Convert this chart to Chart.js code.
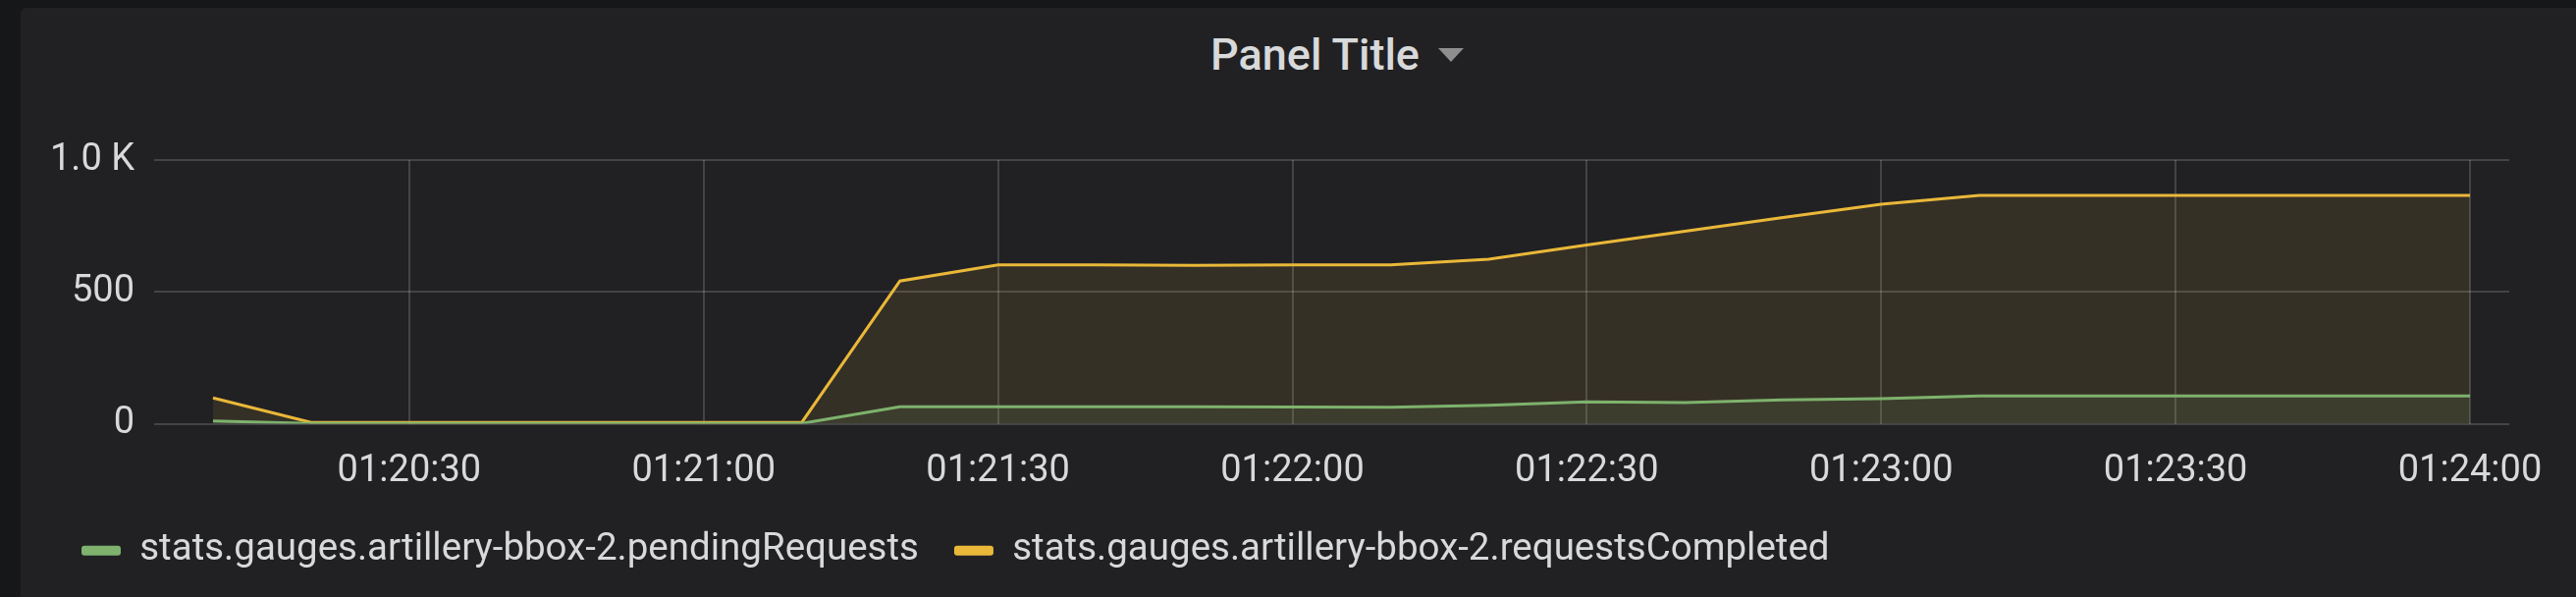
<!DOCTYPE html>
<html>
<head>
<meta charset="utf-8">
<script src="https://cdn.jsdelivr.net/npm/chart.js@4"></script>
<style>
  html, body { margin: 0; padding: 0; background: #161719; }
  #panel {
    position: absolute; left: 21px; top: 8px; width: 2603px; height: 600px;
    background: #212124; border-radius: 6px 0 0 0;
  }
  #title {
    position: absolute; left: 1233px; top: 33px; display: flex; align-items: flex-start;
    font-family: Roboto, sans-serif; font-weight: 500; font-size: 45px; line-height: 1;
    color: #d8d9da; white-space: nowrap;
  }
  #title .caret {
    width: 0; height: 0; margin-left: 19px; margin-top: 16px;
    border-left: 13px solid transparent; border-right: 13px solid transparent;
    border-top: 14px solid #8e8e8e;
  }
  #wrap { position: absolute; left: 0; top: 0; width: 2624px; height: 608px; }
</style>
</head>
<body>
<div id="panel"></div>
<div id="title"><span>Panel Title</span><span class="caret"></span></div>
<div id="wrap"><canvas id="chart"></canvas></div>
<script>
// Serie de tiempo (cada 10 s)
const times = [
    '01:20:10', '01:20:20', '01:20:30', '01:20:40', '01:20:50', '01:21:00',
    '01:21:10', '01:21:20', '01:21:30', '01:21:40', '01:21:50', '01:22:00',
    '01:22:10', '01:22:20', '01:22:30', '01:22:40', '01:22:50', '01:23:00',
    '01:23:10', '01:23:20', '01:23:30', '01:23:40', '01:23:50', '01:24:00'
];
const pendingRequests = [
    10, 1, 1, 1, 1, 1,
    1, 64, 64, 64, 64, 63,
    62, 70, 83, 80, 90, 95,
    105, 105, 105, 105, 105, 105
];
const requestsCompleted = [
    98, 5, 5, 5, 5, 5,
    5, 541, 602, 602, 601, 602,
    602, 624, 678, 730, 782, 832,
    866, 866, 866, 866, 866, 866
];
const xTickLabels = ['01:20:30', '01:21:00', '01:21:30', '01:22:00', '01:22:30', '01:23:00', '01:23:30', '01:24:00'];
const yTickValues = [0, 500, 1000];
const xRange = ['01:20:04', '01:24:04'];

function toSec(t) {
    const p = t.split(':').map(Number);
    return p[0] * 3600 + p[1] * 60 + p[2];
}
function fmtY(v) {
    return v >= 1000 ? (v / 1000).toFixed(1) + ' K' : String(v);
}
function series(values) {
    return values.map((v, i) => ({ x: toSec(times[i]), y: v }));
}

const textColor = '#d8d9da';
const gridColor = 'rgba(255, 255, 255, 0.16)';

const ctx = document.getElementById('chart');
new Chart(ctx, {
    type: 'line',
    data: {
        datasets: [{
            label: 'stats.gauges.artillery-bbox-2.pendingRequests',
            data: series(pendingRequests),
            borderColor: '#7eb26d',
            backgroundColor: 'rgba(126, 178, 109, 0.1)',
            borderWidth: 3,
            pointRadius: 0,
            fill: 'origin',
            tension: 0
        }, {
            label: 'stats.gauges.artillery-bbox-2.requestsCompleted',
            data: series(requestsCompleted),
            borderColor: '#eab839',
            backgroundColor: 'rgba(234, 184, 57, 0.1)',
            borderWidth: 3,
            pointRadius: 0,
            fill: 'origin',
            tension: 0
        }]
    },
    options: {
        responsive: true,
        maintainAspectRatio: false,
        animation: false,
        layout: { padding: { left: 47, right: 68, top: 163, bottom: 18 } },
        plugins: {
            tooltip: { enabled: false },
            legend: {
                position: 'bottom',
                align: 'start',
                labels: {
                    color: textColor,
                    font: { family: 'Roboto', size: 38.5 },
                    boxWidth: 40,
                    boxHeight: 10,
                    padding: 36,
                    useBorderRadius: true,
                    borderRadius: 3,
                    generateLabels: function (chart) {
                        return Chart.defaults.plugins.legend.labels.generateLabels(chart)
                            .map(l => Object.assign(l, { fillStyle: l.strokeStyle, lineWidth: 0 }));
                    }
                }
            }
        },
        scales: {
            x: {
                type: 'linear',
                min: toSec(xRange[0]),
                max: toSec(xRange[1]),
                afterBuildTicks: function (axis) {
                    axis.ticks = xTickLabels.map(t => ({ value: toSec(t) }));
                },
                afterFit: function (axis) { axis.height = 74; },
                border: { display: false },
                grid: { color: gridColor, lineWidth: 2, drawTicks: false },
                ticks: {
                    color: textColor,
                    font: { family: 'Roboto', size: 38 },
                    padding: 26,
                    maxRotation: 0,
                    autoSkip: false,
                    callback: function (value, index) { return xTickLabels[index]; }
                }
            },
            y: {
                min: 0,
                max: 1000,
                afterBuildTicks: function (axis) {
                    axis.ticks = yTickValues.map(v => ({ value: v }));
                },
                afterFit: function (axis) { axis.width = 110; },
                border: { display: false },
                grid: { color: gridColor, lineWidth: 2, drawTicks: false },
                ticks: {
                    color: textColor,
                    font: { family: 'Roboto', size: 38 },
                    padding: 20,
                    callback: function (value) { return fmtY(value); }
                }
            }
        }
    }
});
</script>
</body>
</html>
